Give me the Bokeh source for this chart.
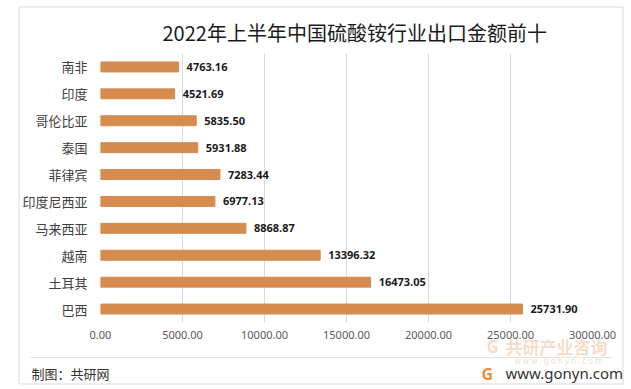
from bokeh.plotting import figure
from bokeh.layouts import column
from bokeh.models import (Range1d, FactorRange, FixedTicker, NumeralTickFormatter,
                          Label, ColumnDataSource)
from bokeh.core.properties import value
from bokeh.embed import file_html
from bokeh.resources import INLINE

countries = ["南非", "印度", "哥伦比亚", "泰国", "菲律宾", "印度尼西亚", "马来西亚", "越南", "土耳其", "巴西"]
amounts = [4763.16, 4521.69, 5835.50, 5931.88, 7283.44, 6977.13, 8868.87, 13396.32, 16473.05, 25731.90]
x_ticks = [0, 5000, 10000, 15000, 20000, 25000, 30000]
title_text = "2022年上半年中国硫酸铵行业出口金额前十"
source_text = "制图：共研网"
site_text = "www.gonyn.com"
wm_text = "共研产业咨询"
wm_site = "w w w . g o n y n . c o m"

CJK = "Noto Sans CJK SC"
NUM = "Noto Sans"

src = ColumnDataSource(dict(c=countries, v=amounts, t=[f"{a:.2f}" for a in amounts]))

W = 624
H1 = 343
FL, FR, FT, FB = 100, 592, 53, 322
p = figure(width=W, height=H1,
           y_range=FactorRange(factors=countries[::-1], range_padding=0),
           x_range=Range1d(0, 30000),
           output_backend="svg", toolbar_location=None,
           min_border_left=FL, min_border_right=W - FR, min_border_top=FT, min_border_bottom=H1 - FB)
p.frame_align = False
p.outline_line_color = None
p.background_fill_color = "white"
p.border_fill_color = "white"

p.title.text = title_text
p.title.align = "left"
p.title.offset = 62
p.title.standoff = 14
p.title.text_font = CJK
p.title.text_font_size = "20px"
p.title.text_font_style = "normal"
p.title.text_color = "#1a1a1a"

p.hbar(y="c", right="v", left=0, height=0.37, color="#D68B4F", source=src)
p.text(x="v", y="c", text="t", x_offset=8, text_baseline="middle", text_align="left",
       text_font=value(NUM), text_font_style="bold", text_font_size="11px",
       text_color="#1a1a1a", source=src)

p.xaxis.ticker = FixedTicker(ticks=x_ticks)
p.xaxis.formatter = NumeralTickFormatter(format="0.00")
p.xaxis.axis_line_color = None
p.xaxis.major_tick_line_color = None
p.xaxis.minor_tick_line_color = None
p.xaxis.major_tick_out = 0
p.xaxis.major_label_standoff = 8
p.xaxis.major_label_text_font = NUM
p.xaxis.major_label_text_font_size = "11px"
p.xaxis.major_label_text_color = "#595959"

p.yaxis.axis_line_color = None
p.yaxis.major_tick_line_color = None
p.yaxis.minor_tick_line_color = None
p.yaxis.major_tick_out = 0
p.yaxis.major_label_standoff = 13
p.yaxis.major_label_text_font = CJK
p.yaxis.major_label_text_font_size = "13px"
p.yaxis.major_label_text_color = "#404040"

p.xgrid.grid_line_color = "#d9d9d9"
p.ygrid.grid_line_color = None

# footer strip, transparent, pulled up over the chart's bottom margin; one unit = one pixel
OVERLAP = 20
H2 = 63
Y0 = H1 + H2 - OVERLAP  # page y of the strip's bottom edge (total height)
f = figure(width=W, height=H2, x_range=Range1d(0, W), y_range=Range1d(0, H2),
           output_backend="svg", toolbar_location=None,
           x_axis_location=None, y_axis_location=None,
           min_border_left=0, min_border_right=0, min_border_top=0, min_border_bottom=0)
f.frame_align = False
f.margin = (-OVERLAP, 0, 0, 0)
f.outline_line_color = None
f.grid.visible = False
f.background_fill_color = None
f.border_fill_color = None

f.segment(x0=[30], y0=[Y0 - 357], x1=[612], y1=[Y0 - 357], line_color="#e3e3e3", line_width=1)


def add_label(px, py, text, **kw):
    f.add_layout(Label(x=px, y=Y0 - py, x_units="screen", y_units="screen", text=text,
                       text_baseline="middle", **kw))


add_label(486, 346, "G", text_align="left", text_font=NUM, text_font_style="bold",
          text_font_size="17px", text_color="#F9D5C0", text_alpha=0.85)
add_label(505, 346, wm_text, text_align="left", text_font=CJK, text_font_style="bold",
          text_font_size="17px", text_color="#F9D5C0", text_alpha=0.85)
add_label(558, 360, wm_site, text_align="center", text_font=NUM,
          text_font_size="8px", text_color="#F3DCCF")
add_label(31, 373, source_text, text_align="left", text_font=CJK,
          text_font_size="13px", text_color="#333333")
add_label(481, 373, "G", text_align="left", text_font=NUM, text_font_style="bold",
          text_font_size="16px", text_color="#F08A3A")
add_label(505, 372, site_text, text_align="left", text_font=NUM,
          text_font_size="15px", text_color="#333333")

# transparent overlay spanning the whole page, for the thin outer frame line
g = figure(width=W, height=Y0, x_range=Range1d(0, W), y_range=Range1d(0, Y0),
           output_backend="svg", toolbar_location=None,
           x_axis_location=None, y_axis_location=None,
           min_border_left=0, min_border_right=0, min_border_top=0, min_border_bottom=0)
g.frame_align = False
g.margin = (-Y0, 0, 0, 0)
g.outline_line_color = None
g.grid.visible = False
g.background_fill_color = None
g.border_fill_color = None
g.quad(left=[18.5], right=[622.5], top=[Y0 - 6.5], bottom=[Y0 - 383.5],
       fill_color=None, line_color="#d9d9d9", line_width=1)

layout = column(p, f, g, spacing=0)
open("out.html", "w").write(file_html(layout, INLINE))
